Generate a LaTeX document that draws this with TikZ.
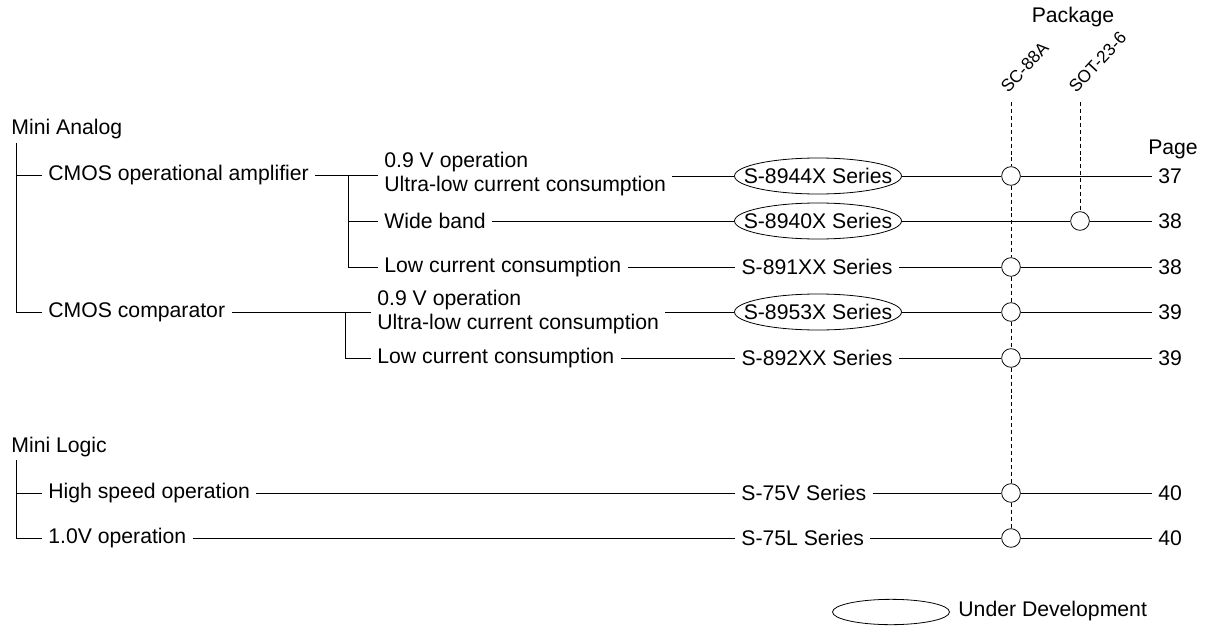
\documentclass[tikz,border=0pt]{standalone}
\usepackage{fontspec}
\setmainfont{Liberation Sans}
\usetikzlibrary{shapes.geometric}
\newcommand{\zw}[1]{\makebox[0pt]{#1}}
\begin{document}
\begin{tikzpicture}[x=0.75pt,y=-0.75pt,
  line width=0.6pt,
  every node/.style={font=\fontsize{15.9pt}{17.6pt}\selectfont},
  txt/.style={anchor=west,inner xsep=4.5pt,inner ysep=0pt,align=left},
  ser/.style={inner xsep=4.5pt,inner ysep=0pt},
  dev/.style={ellipse,draw,inner sep=0pt,minimum width=125.25pt,minimum height=27pt},
  pkg/.style={circle,draw,fill=white,inner sep=0pt,minimum size=14pt},
  pg/.style={anchor=west,inner xsep=4.5pt,inner ysep=0pt},
  rot/.style={rotate=47,anchor=base west,inner sep=0pt,font=\fontsize{13pt}{15pt}\selectfont},
  dsh/.style={dash pattern=on 3pt off 2.2pt}
]
\useasboundingbox (0,0) rectangle (1207,628);

% headings
\node[anchor=west,inner sep=0pt] (ma) at (11,129) {Mini Analog};
\node[anchor=west,inner sep=0pt] (ml) at (11,447) {Mini Logic};
\node (pkgl) at (1073,17) {Package};
\node (pagel) at (1173,149) {Page};
\node[rot] (sc) at (1008,94) {SC-88A};
\node[rot] (sot) at (1076,94) {SOT-23-6};

% level 1
\node[txt] (amp) at (42,175) {CMOS operational amplifier};
\node[txt] (cmp) at (42,312) {CMOS comparator};
\node[txt] (hs) at (42,493) {High speed operation};
\node[txt] (v10) at (42,538) {1.0V operation};

% level 2
\node[txt] (o1) at (378,174) {0.9 V operation\\Ultra-low current consumption};
\node[txt] (wb) at (378,221) {Wide band};
\node[txt] (lc1) at (378,267) {Low current consumption};
\node[txt] (o2) at (371,312) {0.9 V operation\\Ultra-low current consumption};
\node[txt] (lc2) at (371,358) {Low current consumption};

% series
\node[dev] (s1) at (818,176) {\zw{S-8944X Series}};
\node[dev] (s2) at (818,221) {\zw{S-8940X Series}};
\node[ser] (s3) at (817,267) {S-891XX Series};
\node[dev] (s4) at (818,312) {\zw{S-8953X Series}};
\node[ser] (s5) at (817,358) {S-892XX Series};
\node[ser,anchor=west] (s6) at (735,493) {S-75V Series};
\node[ser,anchor=west] (s7) at (735,538) {S-75L Series};

% package circles
\node[pkg] (c1) at (1011,176) {};
\node[pkg] (c2) at (1080,221) {};
\node[pkg] (c3) at (1011,267) {};
\node[pkg] (c4) at (1011,312) {};
\node[pkg] (c5) at (1011,358) {};
\node[pkg] (c6) at (1011,493) {};
\node[pkg] (c7) at (1011,538) {};

% pages
\node[pg] (p1) at (1152,176) {37};
\node[pg] (p2) at (1152,221) {38};
\node[pg] (p3) at (1152,267) {38};
\node[pg] (p4) at (1152,312) {39};
\node[pg] (p5) at (1152,358) {39};
\node[pg] (p6) at (1152,493) {40};
\node[pg] (p7) at (1152,538) {40};

% tree: mini analog
\coordinate (ta) at (16,143);
\draw (ta) |- (amp.west);
\draw (ta) |- (cmp.west);
\coordinate (b1) at (348,175);
\draw (amp.east) -- (o1.west |- b1);
\draw (b1) |- (wb.west);
\draw (b1) |- (lc1.west);
\coordinate (b2) at (345,312);
\draw (cmp.east) -- (o2.west |- b2);
\draw (b2) |- (lc2.west);

% tree: mini logic
\coordinate (tl) at (16,460);
\draw (tl) |- (hs.west);
\draw (tl) |- (v10.west);

% rows
\draw (o1.east |- s1) -- (s1.west);
\draw (s1.east) -- (c1.west);
\draw (c1.east) -- (p1.west);
\draw (wb.east) -- (s2.west);
\draw (s2.east) -- (c2.west);
\draw (c2.east) -- (p2.west);
\draw (lc1.east) -- (s3.west);
\draw (s3.east) -- (c3.west);
\draw (c3.east) -- (p3.west);
\draw (o2.east) -- (s4.west);
\draw (s4.east) -- (c4.west);
\draw (c4.east) -- (p4.west);
\draw (lc2.east) -- (s5.west);
\draw (s5.east) -- (c5.west);
\draw (c5.east) -- (p5.west);
\draw (hs.east) -- (s6.west);
\draw (s6.east) -- (c6.west);
\draw (c6.east) -- (p6.west);
\draw (v10.east) -- (s7.west);
\draw (s7.east) -- (c7.west);
\draw (c7.east) -- (p7.west);

% dashed package columns
\coordinate (sctop) at (1011,102);
\coordinate (sottop) at (1080,102);
\draw[dsh] (sctop) -- (c1.north);
\draw[dsh] (c1.south) -- (c3.north);
\draw[dsh] (c3.south) -- (c4.north);
\draw[dsh] (c4.south) -- (c5.north);
\draw[dsh] (c5.south) -- (c6.north);
\draw[dsh] (c6.south) -- (c7.north);
\draw[dsh] (sottop) -- (c2.north);

% legend
\node[dev,minimum width=87.75pt,minimum height=19pt] (lg) at (891,612) {};
\node[anchor=west,inner sep=0pt] (lgt) at (958,611) {Under Development};
\end{tikzpicture}
\end{document}
